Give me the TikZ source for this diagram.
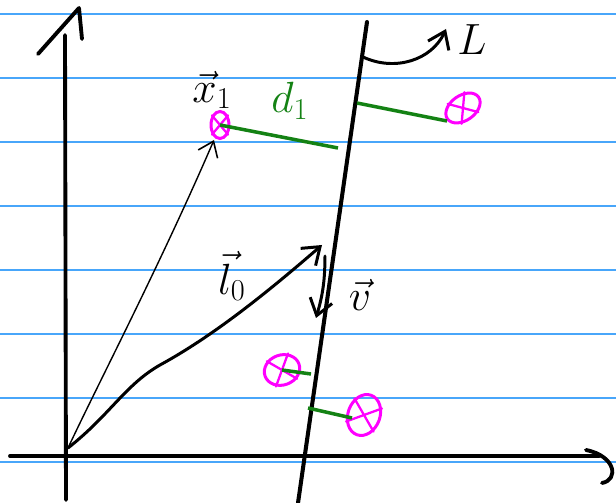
\documentclass[tikz,border=0pt]{standalone}
\usepackage{xcolor}
\usepackage{tikz}
\usetikzlibrary{shapes.geometric, arrows.meta, positioning}
\definecolor{ruleblue}{RGB}{72,166,250}
\definecolor{distgreen}{RGB}{20,130,20}
\definecolor{pointpink}{RGB}{255,0,255}

\begin{document}
\begin{tikzpicture}[x=0.02cm,y=-0.02cm,
  ruled/.style={draw=ruleblue,line width=0.7pt},
  axis/.style={line width=2.2pt,line cap=round,line join=round},
  lineL/.style={line width=2.3pt,line cap=round},
  vec/.style={line width=1.7pt,line cap=round,-{Straight Barb[length=9pt,width=13pt,line width=1.7pt]}},
  thinvec/.style={line width=0.8pt,line cap=round,-{Straight Barb[length=8pt,width=12pt,line width=0.9pt]}},
  dist/.style={draw=distgreen,line width=2pt},
  pt/.style={draw=pointpink,ellipse,line width=1.7pt,inner sep=0pt},
  cross/.style={draw=pointpink,line width=1.3pt,line cap=round},
  lbl/.style={font=\fontsize{24}{26}\selectfont}
]
\useasboundingbox[fill=white] (0,0) rectangle (616,503);

% ruled paper
\foreach \y in {14,78,...,462}
  \draw[ruled] (0,\y) -- (616,\y);

% axes
\coordinate (yb) at (66,500);
\coordinate (yt) at (65,35);
\coordinate (ya1) at (38,54);
\coordinate (ya2) at (79,8);
\coordinate (ya3) at (82,39);
\coordinate (xl) at (10,456);
\coordinate (xr) at (599,456);
\coordinate (xh1) at (586,450);
\coordinate (xh2) at (602,483);
\draw[axis] (yb) -- (yt);
\draw[axis] (ya1) -- (ya2) -- (ya3);
\draw[axis] (xl) -- (xr);
\draw[axis] (xh1) .. controls (616,456) and (619,480) .. (xh2);

% the line L
\coordinate (Lbot) at (298,503);
\coordinate (Ltop) at (367,22);
\draw[lineL] (Lbot) -- (Ltop);

% points
\node[pt,minimum width=0.36cm,minimum height=0.54cm] (px1) at (220,125) {};
\node[pt,minimum width=0.76cm,minimum height=0.5cm,rotate=35] (pr) at (463,108) {};
\node[pt,minimum width=0.72cm,minimum height=0.6cm,rotate=20] (pa) at (282,370) {};
\node[pt,minimum width=0.84cm,minimum height=0.64cm,rotate=70] (pb) at (364,415) {};
\foreach \p in {px1,pr,pa,pb}
  \draw[cross] (\p.50) -- (\p.230) (\p.130) -- (\p.310);

% distances to L
\coordinate (f1) at (338,148);
\coordinate (f2) at (357,103);
\coordinate (e2) at (447,121);
\coordinate (f3) at (311,374);
\coordinate (f4) at (308,408);
\coordinate (e4) at (352,418);
\draw[dist] (px1.center) -- (f1);
\draw[dist] (f2) -- (e2);
\draw[dist] (pa.center) -- (f3);
\draw[dist] (f4) -- (e4);

% vectors
\coordinate (O) at (68,448);
\coordinate (x1tip) at (214,140);
\coordinate (l0mid) at (160,365);
\coordinate (l0tip) at (322,245);
\coordinate (v1) at (325,256);
\coordinate (v2) at (316,318);
\draw[thinvec] (O) .. controls (100,380) and (160,265) .. (x1tip);
\draw[vec] (O) .. controls (110,415) and (125,385) .. (l0mid)
  .. controls (215,335) and (270,290) .. (l0tip);
\draw[vec] (v1) to[bend left=8] (v2);

% labels
\node[lbl] (lx1) at (212,90) {$\vec{x}_1$};
\node[lbl,text=distgreen] (ld1) at (290,101) {$d_1$};
\node[lbl] (ll0) at (232,276) {$\vec{l}_0$};
\node[lbl] (lv) at (360,295) {$\vec{v}$};
\node[lbl] (lL) at (472,40) {$L$};
\coordinate (Lc) at (363,57);
\coordinate (Ltip) at (446,29);
\draw[vec] (Lc) .. controls (395,72) and (432,60) .. (Ltip);
\end{tikzpicture}
\end{document}
